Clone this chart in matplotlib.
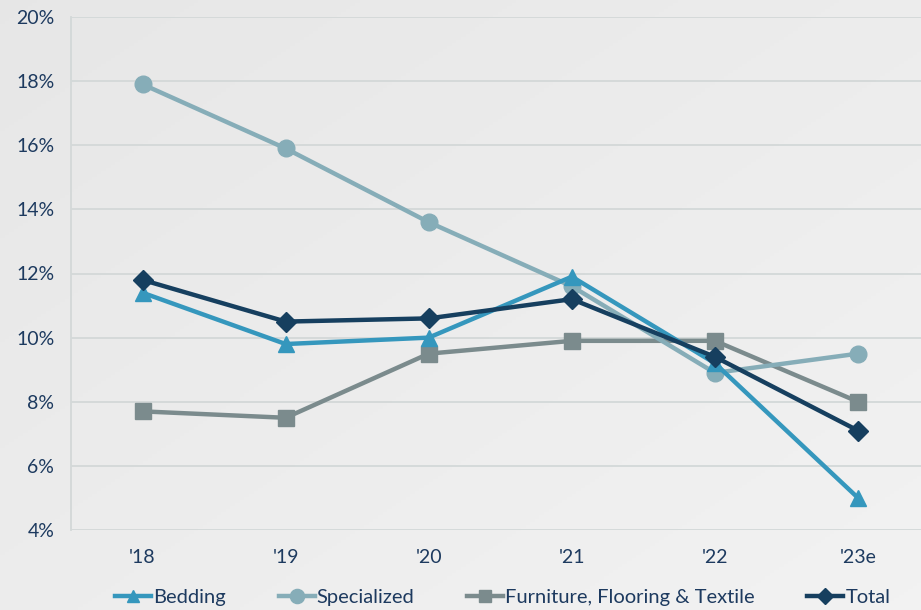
import numpy as np
import matplotlib.pyplot as plt
from matplotlib.ticker import FuncFormatter

years = ["'18", "'19", "'20", "'21", "'22", "'23e"]
bedding = [11.4, 9.8, 10.0, 11.9, 9.2, 5.0]
specialized = [17.9, 15.9, 13.6, 11.6, 8.9, 9.5]
furniture = [7.7, 7.5, 9.5, 9.9, 9.9, 8.0]
total = [11.8, 10.5, 10.6, 11.2, 9.4, 7.1]

text_color = "#1d3a5f"
grid_color = "#d3d8d8"

plt.rcParams["font.family"] = ["Lato", "DejaVu Sans"]

fig = plt.figure(figsize=(9.21, 6.10), dpi=100)

# soft grey background gradient, lighter towards the lower right
bg = fig.add_axes([0, 0, 1, 1], zorder=-10)
gx, gy = np.meshgrid(np.linspace(0, 1, 200), np.linspace(0, 1, 200))
shade = 0.905 + 0.045 * (0.5 * gx + 0.5 * (1 - gy))
bg.imshow(np.dstack([shade, shade, shade]), aspect="auto",
          extent=[0, 1, 0, 1], origin="lower")
bg.axis("off")

ax = fig.add_axes([71 / 921, 80 / 610, 850 / 921, 513 / 610])
ax.patch.set_alpha(0)

x = np.arange(len(years))
ax.plot(x, bedding, color="#3597bd", lw=3.2, marker="^", ms=11, label="Bedding", zorder=4)
ax.plot(x, specialized, color="#86adb8", lw=3.2, marker="o", ms=12, label="Specialized", zorder=3)
ax.plot(x, furniture, color="#7b8b8d", lw=3.2, marker="s", ms=11, label="Furniture, Flooring & Textile", zorder=2)
ax.plot(x, total, color="#163f5f", lw=3.2, marker="D", ms=10, label="Total", zorder=5)

ax.set_ylim(4, 20)
ax.set_yticks(np.arange(4, 21, 2))
ax.yaxis.set_major_formatter(FuncFormatter(lambda v, p: f"{v:.0f}%"))
ax.set_xlim(-0.5, 5.44)
ax.set_xticks(x)
ax.set_xticklabels(years)
ax.grid(axis="y", color=grid_color, lw=1.3)
ax.set_axisbelow(True)
for s in ["top", "right", "bottom"]:
    ax.spines[s].set_visible(False)
ax.spines["left"].set_color(grid_color)
ax.spines["left"].set_linewidth(1.3)
ax.tick_params(length=0, labelsize=14, colors=text_color)
ax.tick_params(axis="y", pad=12)
ax.tick_params(axis="x", pad=14)

leg = ax.legend(loc="upper center", bbox_to_anchor=(0.508, -0.08), ncol=4,
                frameon=False, fontsize=14.5, handlelength=1.8, handletextpad=0.1,
                columnspacing=2.6, markerscale=0.85)
for t in leg.get_texts():
    t.set_color(text_color)

fig.savefig("out.png", dpi=100)
